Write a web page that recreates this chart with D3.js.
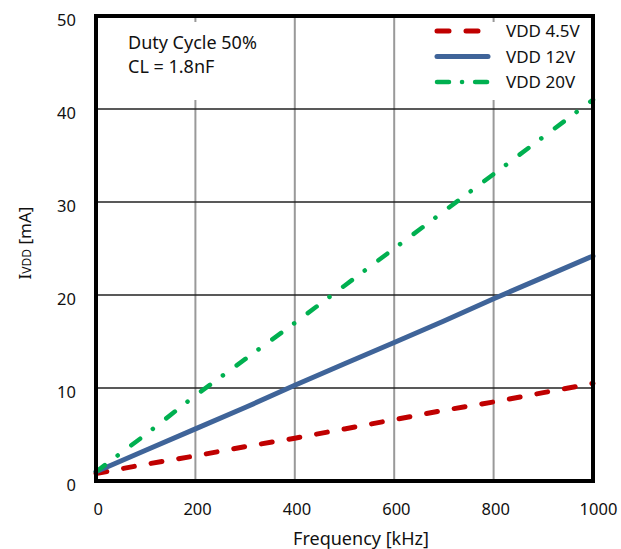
<!DOCTYPE html>
<html>
<head>
<meta charset="utf-8">
<script src="https://cdnjs.cloudflare.com/ajax/libs/d3/7.8.5/d3.min.js"></script>
<style>
body { margin: 0; background: #fff; }
text { font-family: "Noto Sans", sans-serif; fill: #111; }
</style>
</head>
<body>
<div id="chart"></div>
<script>
var svgWidth = 621;
var svgHeight = 549;

// data
var freq = [0, 100, 200, 300, 400, 500, 600, 700, 800, 900, 1000];
var vdd45 = [0.8, 1.8, 2.7, 3.7, 4.6, 5.6, 6.6, 7.6, 8.5, 9.5, 10.5];
var vdd12 = [1.0, 3.3, 5.6, 7.9, 10.3, 12.6, 14.9, 17.2, 19.6, 21.9, 24.2];
var vdd20 = [1.0, 5.0, 9.2, 13.1, 17.0, 21.0, 25.0, 29.0, 33.0, 37.0, 41.0];
var seriesNames = ['VDD 4.5V', 'VDD 12V', 'VDD 20V'];
var xTicks = [0, 200, 400, 600, 800, 1000];
var yTicks = [0, 10, 20, 30, 40, 50];

var series = [
    { name: seriesNames[0], values: vdd45, color: '#c00000', width: 5, dash: '11,17' },
    { name: seriesNames[1], values: vdd12, color: '#3f6499', width: 5, dash: null },
    { name: seriesNames[2], values: vdd20, color: '#00b050', width: 4.5, dash: '11,16,0.1,17' }
]

var margin = { left: 96, top: 16, right: 28, bottom: 68 }
var width = svgWidth - margin.left - margin.right;
var height = svgHeight - margin.top - margin.bottom;

var svg = d3.select('#chart').append('svg')
    .attr('width', svgWidth)
    .attr('height', svgHeight)

var chartArea = svg.append('g')
    .attr('transform', `translate(${margin.left},${margin.top})`)

var xScale = d3.scaleLinear().domain([0, 1000]).range([0, width])
var yScale = d3.scaleLinear().domain([0, 50]).range([height, 0])

// grid
chartArea.selectAll('.vgrid')
    .data(xTicks.slice(1, -1))
    .enter()
    .append('line')
    .attr('x1', d => xScale(d))
    .attr('x2', d => xScale(d))
    .attr('y1', 0)
    .attr('y2', height)
    .attr('stroke', '#999')
    .attr('stroke-width', 2)

chartArea.selectAll('.hgrid')
    .data(yTicks.slice(1, -1))
    .enter()
    .append('line')
    .attr('x1', 0)
    .attr('x2', width)
    .attr('y1', d => yScale(d))
    .attr('y2', d => yScale(d))
    .attr('stroke', '#222')
    .attr('stroke-width', 1.6)

// white boxes behind annotation and legend
chartArea.append('rect')
    .attr('x', 20).attr('y', 6).attr('width', 160).attr('height', 78)
    .attr('fill', '#fff')
chartArea.append('rect')
    .attr('x', 325).attr('y', 6).attr('width', 168).attr('height', 78)
    .attr('fill', '#fff')

// lines
var line = d3.line()
    .x((d, i) => xScale(freq[i]))
    .y(d => yScale(d))

chartArea.selectAll('.series')
    .data(series)
    .enter()
    .append('path')
    .attr('d', d => line(d.values))
    .attr('fill', 'none')
    .attr('stroke', d => d.color)
    .attr('stroke-width', d => d.width)
    .attr('stroke-linecap', 'round')
    .attr('stroke-dasharray', d => d.dash)

// axes (labels only, frame drawn separately)
var xAxis = chartArea.append('g')
    .attr('transform', `translate(0,${height})`)
    .call(d3.axisBottom(xScale).tickValues(xTicks).tickFormat(d3.format('d')).tickSize(0).tickPadding(22))
var yAxis = chartArea.append('g')
    .call(d3.axisLeft(yScale).tickValues(yTicks).tickSize(0).tickPadding(20))

svg.selectAll('.domain').remove()
svg.selectAll('.tick text')
    .attr('font-family', '"Noto Sans", sans-serif')
    .attr('font-size', 16.5)
    .attr('fill', '#111')
yAxis.selectAll('.tick text').attr('dy', '0.55em')
xAxis.selectAll('.tick text').attr('dx', d => d === 1000 ? '0.3em' : '0.1em')

// frame
chartArea.append('rect')
    .attr('x', 0).attr('y', 0)
    .attr('width', width).attr('height', height)
    .attr('fill', 'none')
    .attr('stroke', '#000')
    .attr('stroke-width', 4)

// annotation
chartArea.append('text')
    .attr('x', 32).attr('y', 33)
    .attr('font-size', 18)
    .text('Duty Cycle 50%')
chartArea.append('text')
    .attr('x', 32).attr('y', 57)
    .attr('font-size', 18)
    .text('CL = 1.8nF')

// legend
var legend = chartArea.selectAll('.legend')
    .data(series)
    .enter()
    .append('g')
    .attr('transform', (d, i) => `translate(341,${15 + i * 25.5})`)

legend.append('line')
    .attr('x1', 0).attr('x2', 51)
    .attr('stroke', d => d.color)
    .attr('stroke-width', d => d.width)
    .attr('stroke-linecap', 'round')
    .attr('stroke-dasharray', (d, i) => i === 0 ? '12,17' : i === 2 ? '12,13,0.1,13' : null)

legend.append('text')
    .attr('x', 69)
    .attr('dy', '0.36em')
    .attr('font-size', 17)
    .text(d => d.name)

// axis titles
svg.append('text')
    .attr('x', 361).attr('y', 545)
    .attr('text-anchor', 'middle')
    .attr('font-size', 18)
    .text('Frequency [kHz]')

var yTitle = svg.append('text')
    .attr('transform', 'translate(31,243) rotate(-90)')
    .attr('text-anchor', 'middle')
    .attr('font-size', 17)
yTitle.append('tspan').text('I')
yTitle.append('tspan').attr('font-size', 12).text('VDD')
yTitle.append('tspan').text(' [mA]')
</script>
</body>
</html>
